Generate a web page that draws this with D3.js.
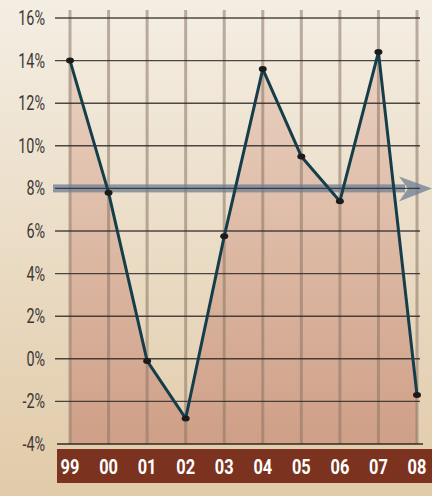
<!DOCTYPE html>
<html>
<head>
<meta charset="utf-8">
<script src="https://cdn.jsdelivr.net/npm/d3@7"></script>
<style>
  html, body { margin: 0; padding: 0; }
  body { width: 432px; height: 496px; overflow: hidden; }
  .y-label { font-family: Roboto, "Liberation Sans", sans-serif; font-size: 20px; fill: #3b3836; }
  .x-label { font-family: Roboto, "Liberation Sans", sans-serif; font-size: 21px; font-weight: bold; fill: #fff; }
</style>
</head>
<body>
<div id="chart"></div>
<script>
const years = ["99", "00", "01", "02", "03", "04", "05", "06", "07", "08"];
const values = [14.0, 7.8, -0.1, -2.8, 5.75, 13.6, 9.5, 7.4, 14.4, -1.7];
const yTicks = [16, 14, 12, 10, 8, 6, 4, 2, 0, -2, -4];
const target = 8;

const width = 432;
const height = 496;

const xScale = d3.scalePoint().domain(years).range([70, 417]);
const yScale = d3.scaleLinear().domain([-4, 16]).range([444, 18]);

const svg = d3.select("#chart")
  .append("svg")
  .attr("width", width)
  .attr("height", height);

const defs = svg.append("defs");

const bg = defs.append("linearGradient")
  .attr("id", "bg")
  .attr("x1", 0).attr("y1", 0).attr("x2", 0).attr("y2", 1);
bg.append("stop").attr("offset", "0%").attr("stop-color", "#f4eee3");
bg.append("stop").attr("offset", "100%").attr("stop-color", "#e1caa8");

const areaGrad = defs.append("linearGradient")
  .attr("id", "area")
  .attr("gradientUnits", "userSpaceOnUse")
  .attr("x1", 0).attr("y1", yScale(16)).attr("x2", 0).attr("y2", yScale(-4));
areaGrad.append("stop").attr("offset", "0%").attr("stop-color", "#ecd7c6");
areaGrad.append("stop").attr("offset", "100%").attr("stop-color", "#cf9f87");

svg.append("rect")
  .attr("width", width)
  .attr("height", height)
  .attr("fill", "url(#bg)");

// filled area under the line
const area = d3.area()
  .x((d, i) => xScale(years[i]))
  .y0(yScale(-4))
  .y1((d) => yScale(d));

svg.append("path")
  .attr("d", area(values))
  .attr("fill", "url(#area)");

// vertical grid
svg.selectAll(".v-grid")
  .data(years)
  .enter()
  .append("line")
  .attr("x1", (d) => xScale(d))
  .attr("x2", (d) => xScale(d))
  .attr("y1", 10)
  .attr("y2", yScale(-4))
  .attr("stroke", "#8a7466")
  .attr("stroke-opacity", 0.55)
  .attr("stroke-width", 3);

// target arrow
const arrow = svg.append("g").attr("opacity", 0.75);
arrow.append("rect")
  .attr("x", 53)
  .attr("y", yScale(target) - 4)
  .attr("width", 352)
  .attr("height", 8)
  .attr("fill", "#6e7f96");
arrow.append("path")
  .attr("d", `M399,${yScale(target) - 12} L432,${yScale(target)} L399,${yScale(target) + 13} L408,${yScale(target)} Z`)
  .attr("fill", "#6e7f96");

// horizontal grid
svg.selectAll(".h-grid")
  .data(yTicks.filter((d) => d > -4))
  .enter()
  .append("line")
  .attr("x1", 55)
  .attr("x2", 420)
  .attr("y1", (d) => yScale(d))
  .attr("y2", (d) => yScale(d))
  .attr("stroke", "#2f2a28")
  .attr("stroke-opacity", 0.85)
  .attr("stroke-width", 1.4);

svg.append("line")
  .attr("x1", 57)
  .attr("x2", 423)
  .attr("y1", yScale(-4))
  .attr("y2", yScale(-4))
  .attr("stroke", "#2f2a28")
  .attr("stroke-width", 1.6);

// y labels (condensed)
svg.selectAll(".y-label")
  .data(yTicks)
  .enter()
  .append("text")
  .attr("class", "y-label")
  .attr("transform", (d) => `translate(45,${yScale(d) + 7}) scale(0.72,1)`)
  .attr("text-anchor", "end")
  .text((d) => d + "%");

// line
const line = d3.line()
  .x((d, i) => xScale(years[i]))
  .y((d) => yScale(d));

svg.append("path")
  .attr("d", line(values))
  .attr("fill", "none")
  .attr("stroke", "#163e4a")
  .attr("stroke-width", 3)
  .attr("stroke-linejoin", "round");

svg.selectAll(".dot")
  .data(values)
  .enter()
  .append("ellipse")
  .attr("cx", (d, i) => xScale(years[i]))
  .attr("cy", (d) => yScale(d))
  .attr("rx", 4)
  .attr("ry", 3)
  .attr("fill", "#1c1a1a");

// year band
svg.append("rect")
  .attr("x", 57)
  .attr("y", 449)
  .attr("width", width - 57)
  .attr("height", 34)
  .attr("fill", "#7b3320");

svg.selectAll(".x-label")
  .data(years)
  .enter()
  .append("text")
  .attr("class", "x-label")
  .attr("transform", (d) => `translate(${xScale(d)},474) scale(0.78,1)`)
  .attr("text-anchor", "middle")
  .text((d) => d);
</script>
</body>
</html>
